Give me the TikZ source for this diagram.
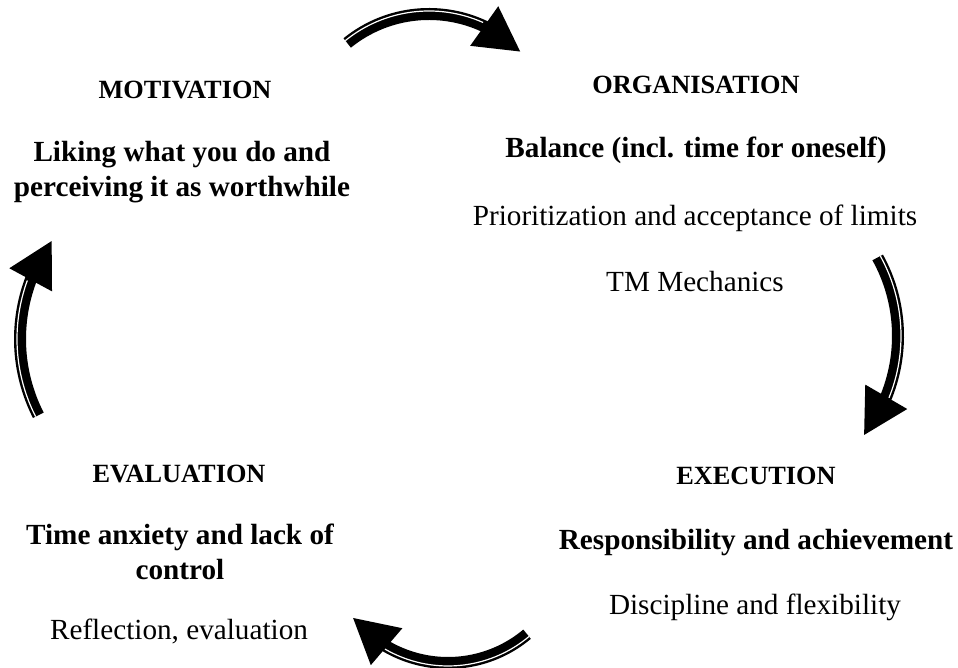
\documentclass[tikz,border=0pt]{standalone}
\usepackage{fontspec}
\setmainfont{Liberation Serif}
\usetikzlibrary{arrows.meta,bending}
\tikzset{
  head/.style={font=\fontsize{26.3}{31}\selectfont\bfseries,anchor=base},
  lead/.style={font=\fontsize{29.2}{35}\selectfont\bfseries,anchor=base,align=center},
  body/.style={font=\fontsize{29.2}{35}\selectfont,anchor=base},
  band/.style={line width=12pt,-{Triangle[length=45pt,width=45pt]}},
  seam/.style={white,line width=1.2pt}
}
\begin{document}
\begin{tikzpicture}[x=1pt,y=1pt]
  \useasboundingbox (0,0) rectangle (958,668);
  \path
  (185,569) node[head] (mot) {MOTIVATION} % <<< top left
  (182,471) node[lead] (motlead) {Liking what you do and\\perceiving it as worthwhile}
  (696,574) node[head] (org) {ORGANISATION} % <<< top right
  (696,510) node[lead] (orglead) {Balance (incl. time for oneself)}
  (695,442) node[body] (orgprio) {Prioritization and acceptance of limits}
  (695,376) node[body] (orgtm) {TM Mechanics}
  (756,183) node[head] (exe) {EXECUTION} % <<< bottom right
  (756,118) node[lead] (exelead) {Responsibility and achievement}
  (755,53) node[body] (exedisc) {Discipline and flexibility}
  (179,185) node[head] (eva) {EVALUATION} % <<< bottom left
  (180,88) node[lead] (evalead) {Time anxiety and lack of\\control}
  (179,28) node[body] (evarefl) {Reflection, evaluation};
  % centres of the four arcs
  \coordinate (c1) at (429,524);
  \coordinate (c2) at (736,332);
  \coordinate (c3) at (448,128);
  \coordinate (c4) at (188,329);
  \draw[band] ([shift={(129:130)}]c1) arc[start angle=129,end angle=45,radius=130];
  \draw[seam] ([shift={(129:133)}]c1) arc[start angle=129,end angle=66,radius=133];
  \draw[band] ([shift={(29:162)}]c2) arc[start angle=29,end angle=-38,radius=162];
  \draw[seam] ([shift={(29:165)}]c2) arc[start angle=29,end angle=-22,radius=165];
  \draw[band] ([shift={(-50:123)}]c3) arc[start angle=-50,end angle=-141,radius=123];
  \draw[seam] ([shift={(-50:126)}]c3) arc[start angle=-50,end angle=-120,radius=126];
  \draw[band] ([shift={(207:168)}]c4) arc[start angle=207,end angle=144,radius=168];
  \draw[seam] ([shift={(207:171)}]c4) arc[start angle=207,end angle=160,radius=171];
\end{tikzpicture}
\end{document}
